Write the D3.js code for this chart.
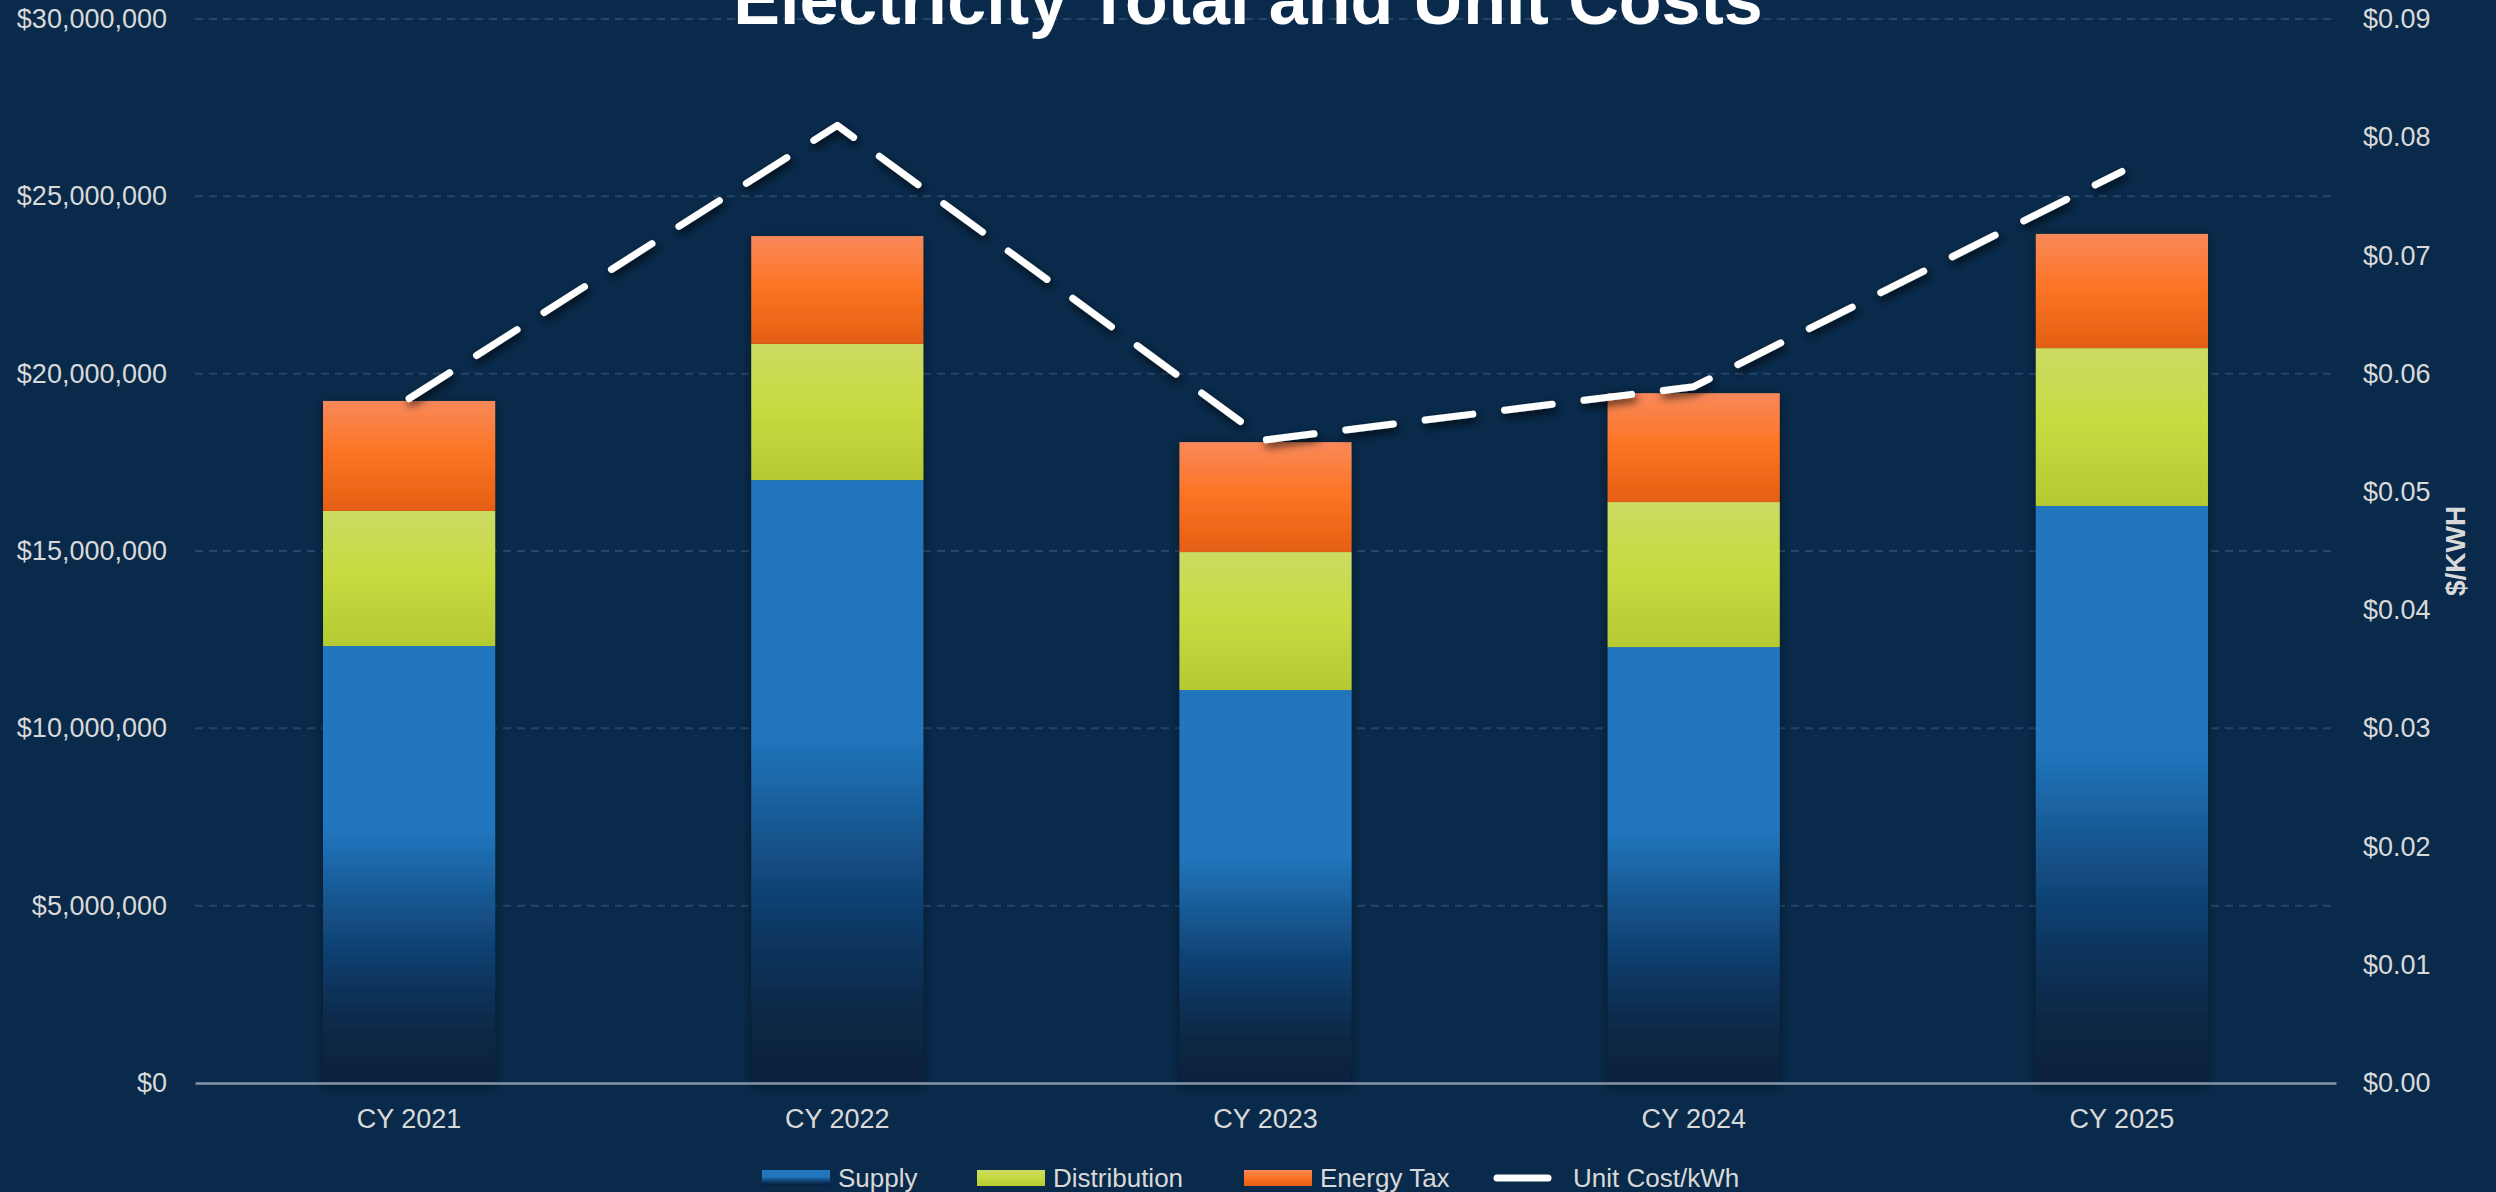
<!DOCTYPE html>
<html>
<head>
<meta charset="utf-8">
<script src="https://cdn.jsdelivr.net/npm/d3@7"></script>
<style>
  html, body { margin: 0; padding: 0; background: #092a4a; }
  svg { display: block; }
  text { font-family: "Liberation Sans", Arial, sans-serif; }
</style>
</head>
<body>
<svg id="chart" width="2496" height="1192"></svg>
<script>
// Calendar years on the category axis
const years = ["CY 2021", "CY 2022", "CY 2023", "CY 2024", "CY 2025"];

// Cost components in dollars (stacked bars, left axis)
const supply       = [12.32e6, 17.00e6, 11.08e6, 12.29e6, 16.27e6];
const distribution = [3.81e6, 3.84e6, 3.89e6, 4.09e6, 4.45e6];
const energyTax    = [3.10e6, 3.04e6, 3.10e6, 3.07e6, 3.22e6];

// Unit cost in $/kWh (dashed line, right axis)
const unitCost = [0.0579, 0.0810, 0.0544, 0.0589, 0.0771];

// Axis tick values
const costTicks = [0, 5e6, 10e6, 15e6, 20e6, 25e6, 30e6];
const rateTicks = [0, 0.01, 0.02, 0.03, 0.04, 0.05, 0.06, 0.07, 0.08, 0.09];

const seriesKeys = ["supply", "distribution", "energyTax"];
const seriesNames = ["Supply", "Distribution", "Energy Tax"];
const lineName = "Unit Cost/kWh";
const title = "Electricity Total and Unit Costs";

const rows = years.map((y, i) => ({
  year: y,
  supply: supply[i],
  distribution: distribution[i],
  energyTax: energyTax[i],
  unitCost: unitCost[i]
}));

const W = 2496, H = 1192;
const plotL = 195, plotR = 2336, plotT = 19, plotB = 1083;
const textColor = "#d9d9d9";
const font = "27px";

const svg = d3.select("#chart");
svg.append("rect").attr("width", W).attr("height", H).attr("fill", "#092a4a");

const defs = svg.append("defs");

function vGrad(id, stops) {
  const g = defs.append("linearGradient").attr("id", id)
    .attr("x1", 0).attr("y1", 0).attr("x2", 0).attr("y2", 1);
  stops.forEach(([o, c]) => g.append("stop").attr("offset", o).attr("stop-color", c));
}
vGrad("g-supply", [
  [0, "#2176bd"], [0.42, "#2176bd"], [0.5, "#1c67a8"], [0.58, "#165690"],
  [0.68, "#104375"], [0.78, "#0c335c"], [0.9, "#082643"], [1, "#07233e"]
]);
vGrad("g-dist", [[0, "#cbdb64"], [0.45, "#c7db42"], [1, "#b5c932"]]);
vGrad("g-tax", [[0, "#f8895a"], [0.45, "#fd7526"], [1, "#e45f12"]]);
const fills = { supply: "url(#g-supply)", distribution: "url(#g-dist)", energyTax: "url(#g-tax)" };

const barShadow = defs.append("filter").attr("id", "barShadow")
  .attr("x", "-20%").attr("y", "-10%").attr("width", "140%").attr("height", "120%");
barShadow.append("feDropShadow").attr("dx", 0).attr("dy", 3).attr("stdDeviation", 6)
  .attr("flood-color", "#000").attr("flood-opacity", 0.45);

const lineShadow = defs.append("filter").attr("id", "lineShadow")
  .attr("x", "-10%").attr("y", "-20%").attr("width", "120%").attr("height", "140%");
lineShadow.append("feDropShadow").attr("dx", 2).attr("dy", 4).attr("stdDeviation", 4)
  .attr("flood-color", "#000").attr("flood-opacity", 0.75);

// Scales
const x = d3.scaleBand().domain(years).range([plotL, plotR])
  .paddingInner(0.598).paddingOuter(0.299);
const yCost = d3.scaleLinear().domain([0, 30e6]).range([plotB, plotT]);
const yRate = d3.scaleLinear().domain([0, 0.09]).range([plotB, plotT]);

// Dashed horizontal gridlines
svg.append("g").selectAll("line")
  .data(costTicks.filter(d => d > 0))
  .join("line")
  .attr("x1", plotL).attr("x2", plotR)
  .attr("y1", d => yCost(d)).attr("y2", d => yCost(d))
  .attr("stroke", "#264669").attr("stroke-width", 2)
  .attr("stroke-dasharray", "8,6");

// Left axis
const axL = svg.append("g").attr("transform", `translate(${plotL},0)`)
  .call(d3.axisLeft(yCost).tickValues(costTicks).tickFormat(d3.format("$,.0f"))
    .tickSize(0).tickPadding(28));
axL.select(".domain").remove();
axL.selectAll("text").attr("fill", textColor).style("font-size", font);

// Right axis
const axR = svg.append("g").attr("transform", `translate(${plotR},0)`)
  .call(d3.axisRight(yRate).tickValues(rateTicks).tickFormat(d => "$" + d3.format(".2f")(d))
    .tickSize(0).tickPadding(27));
axR.select(".domain").remove();
axR.selectAll("text").attr("fill", textColor).style("font-size", font);

svg.append("text")
  .attr("transform", "translate(2465,551) rotate(-90)")
  .attr("text-anchor", "middle")
  .attr("fill", textColor)
  .style("font-size", "28px").style("font-weight", "bold")
  .text("$/KWH");

// Stacked bars
const stacked = d3.stack().keys(seriesKeys)(rows);
const barGroups = svg.append("g").selectAll("g.bar")
  .data(rows.map((r, i) => ({ year: r.year, segs: stacked.map(s => ({ key: s.key, v: s[i] })) })))
  .join("g").attr("class", "bar").attr("filter", "url(#barShadow)");
barGroups.selectAll("rect")
  .data(d => d.segs.map(s => ({ ...s, year: d.year })))
  .join("rect")
  .attr("x", d => x(d.year))
  .attr("width", x.bandwidth())
  .attr("y", d => yCost(d.v[1]))
  .attr("height", d => yCost(d.v[0]) - yCost(d.v[1]))
  .attr("fill", d => fills[d.key]);

// Category axis
const axB = svg.append("g").attr("transform", `translate(0,${plotB})`)
  .call(d3.axisBottom(x).tickSize(0).tickPadding(26));
axB.select(".domain").attr("stroke", "#8696a8").attr("stroke-width", 2.5);
axB.selectAll("text").attr("fill", textColor).style("font-size", font);

// Unit cost line
const line = d3.line()
  .x(d => x(d.year) + x.bandwidth() / 2)
  .y(d => yRate(d.unitCost));
svg.append("path")
  .datum(rows)
  .attr("d", line)
  .attr("fill", "none")
  .attr("stroke", "#ffffff")
  .attr("stroke-width", 7)
  .attr("stroke-linecap", "round")
  .attr("stroke-linejoin", "round")
  .attr("stroke-dasharray", "48,32")
  .attr("filter", "url(#lineShadow)");

// Title
svg.append("text")
  .attr("x", W / 2).attr("y", 24)
  .attr("text-anchor", "middle")
  .attr("fill", "#ffffff")
  .style("font-size", "70px").style("font-weight", "bold")
  .text(title);

// Legend
const legendY = 1178;
const legendItems = [
  { name: seriesNames[0], fill: fills.supply, sx: 762 },
  { name: seriesNames[1], fill: fills.distribution, sx: 977 },
  { name: seriesNames[2], fill: fills.energyTax, sx: 1244 }
];
const lg = svg.append("g");
legendItems.forEach(it => {
  lg.append("rect").attr("x", it.sx).attr("y", legendY - 8)
    .attr("width", 68).attr("height", 16).attr("fill", it.fill);
  lg.append("text").attr("x", it.sx + 76).attr("y", legendY)
    .attr("dy", "0.35em").attr("fill", textColor).style("font-size", "26px")
    .text(it.name);
});
lg.append("line").attr("x1", 1497).attr("x2", 1548)
  .attr("y1", legendY).attr("y2", legendY)
  .attr("stroke", "#ffffff").attr("stroke-width", 7).attr("stroke-linecap", "round");
lg.append("text").attr("x", 1573).attr("y", legendY)
  .attr("dy", "0.35em").attr("fill", textColor).style("font-size", "26px")
  .text(lineName);
</script>
</body>
</html>
